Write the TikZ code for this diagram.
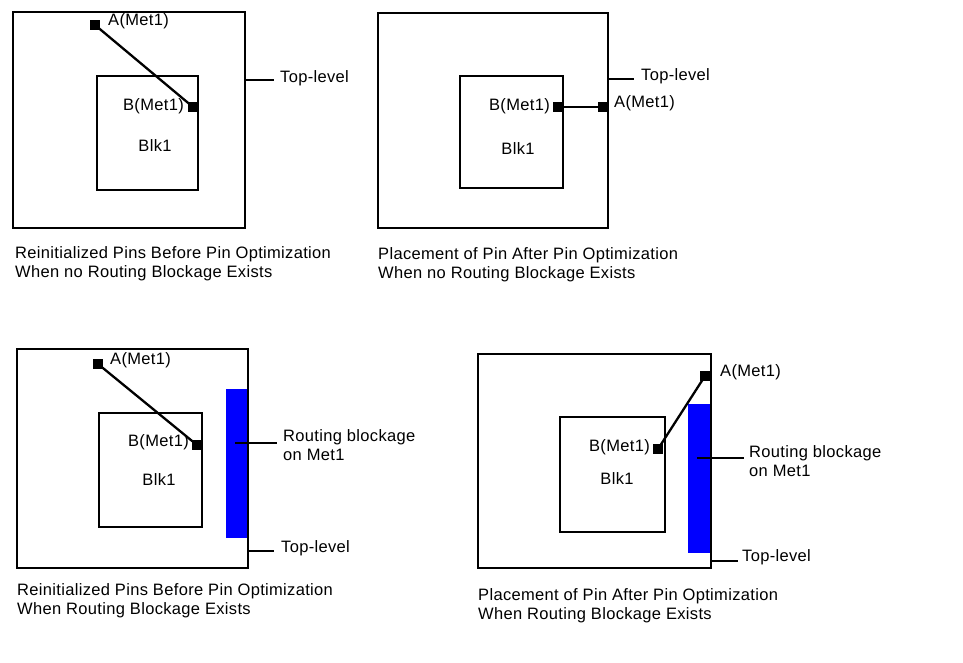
\documentclass[tikz,border=0pt]{standalone}
\usepackage{fontspec}
\setmainfont{Liberation Sans}[LetterSpace=2]
\begin{document}
\begin{tikzpicture}[x=1pt, y=-1pt,
    box/.style={line width=2.6pt},
    wire/.style={line width=2.3pt},
    pin/.style={fill=black, inner sep=0pt, minimum size=10.5pt},
    blockage/.style={fill=blue},
    lbl/.style={inner sep=0pt, font=\fontsize{16.5}{19}\selectfont},
    captext/.style={inner sep=0pt, align=left, anchor=north west, font=\fontsize{16.5}{19}\selectfont}]
  \useasboundingbox[fill=white] (0,0) rectangle (963,663);

  % ================= top left: before, no blockage =================
  \draw[box] (13,12) rectangle (245,228);
  \draw[box] (97,76) rectangle (198,190);
  \node[pin] (pinA1) at (95,25) {};
  \node[pin] (pinB1) at (193,107) {};
  \draw[wire] (pinA1.center) -- (pinB1.center);
  \node[lbl, anchor=west] (labA1) at (108,21) {A(Met1)};
  \node[lbl, anchor=east] (labB1) at (184,106) {B(Met1)};
  \node[lbl] (blk1) at (155,146) {Blk1};
  \coordinate (top1) at (245,80);
  \node[lbl, anchor=west] (labT1) at (280,78) {Top-level};
  \draw[wire] (top1) -- ([xshift=-6pt]labT1.west |- top1);
  \node[captext] (cap1) at (15,246) {Reinitialized Pins Before Pin Optimization\\When no Routing Blockage Exists};

  % ================= top right: after, no blockage =================
  \draw[box] (378,13) rectangle (608,228);
  \draw[box] (460,76) rectangle (563,188);
  \node[pin] (pinB2) at (558,107) {};
  \node[pin] (pinA2) at (603,107) {};
  \draw[wire] (pinB2) -- (pinA2);
  \node[lbl, anchor=east] (labB2) at (550,106) {B(Met1)};
  \node[lbl, anchor=west] (labA2) at (614,103) {A(Met1)};
  \node[lbl] (blk2) at (518,149) {Blk1};
  \coordinate (top2) at (608,79);
  \node[lbl, anchor=west] (labT2) at (641,76) {Top-level};
  \draw[wire] (top2) -- ([xshift=-7pt]labT2.west |- top2);
  \node[captext] (cap2) at (378,247) {Placement of Pin After Pin Optimization\\When no Routing Blockage Exists};

  % ================= bottom left: before, with blockage =================
  \draw[box] (17,349) rectangle (248,568);
  \draw[box] (99,413) rectangle (202,527);
  \fill[blockage] (226,389) rectangle (247,538);
  \node[pin] (pinA3) at (98,364) {};
  \node[pin] (pinB3) at (197,445) {};
  \draw[wire] (pinA3.center) -- (pinB3.center);
  \node[lbl, anchor=west] (labA3) at (110,360) {A(Met1)};
  \node[lbl, anchor=east] (labB3) at (189,442) {B(Met1)};
  \node[lbl] (blk3) at (159,480) {Blk1};
  \coordinate (rb3) at (235,443);
  \node[lbl, anchor=north west, align=left] (labR3) at (283,429) {Routing blockage\\on Met1};
  \draw[wire] (rb3) -- ([xshift=-6pt]labR3.west |- rb3);
  \coordinate (top3) at (248,551);
  \node[lbl, anchor=west] (labT3) at (281,548) {Top-level};
  \draw[wire] (top3) -- ([xshift=-7pt]labT3.west |- top3);
  \node[captext] (cap3) at (17,583) {Reinitialized Pins Before Pin Optimization\\When Routing Blockage Exists};

  % ================= bottom right: after, with blockage =================
  \draw[box] (478,354) rectangle (711,568);
  \draw[box] (560,417) rectangle (665,532);
  \fill[blockage] (688,404) rectangle (710,553);
  \node[pin] (pinA4) at (705,376) {};
  \node[pin] (pinB4) at (658,449) {};
  \draw[wire] (pinA4.center) -- (pinB4.center);
  \node[lbl, anchor=west] (labA4) at (720,372) {A(Met1)};
  \node[lbl, anchor=east] (labB4) at (650,447) {B(Met1)};
  \node[lbl] (blk4) at (617,479) {Blk1};
  \coordinate (rb4) at (697,458);
  \node[lbl, anchor=north west, align=left] (labR4) at (749,445) {Routing blockage\\on Met1};
  \draw[wire] (rb4) -- ([xshift=-5pt]labR4.west |- rb4);
  \coordinate (top4) at (711,561);
  \node[lbl, anchor=west] (labT4) at (742,557) {Top-level};
  \draw[wire] (top4) -- ([xshift=-4pt]labT4.west |- top4);
  \node[captext] (cap4) at (478,588) {Placement of Pin After Pin Optimization\\When Routing Blockage Exists};
\end{tikzpicture}
\end{document}
